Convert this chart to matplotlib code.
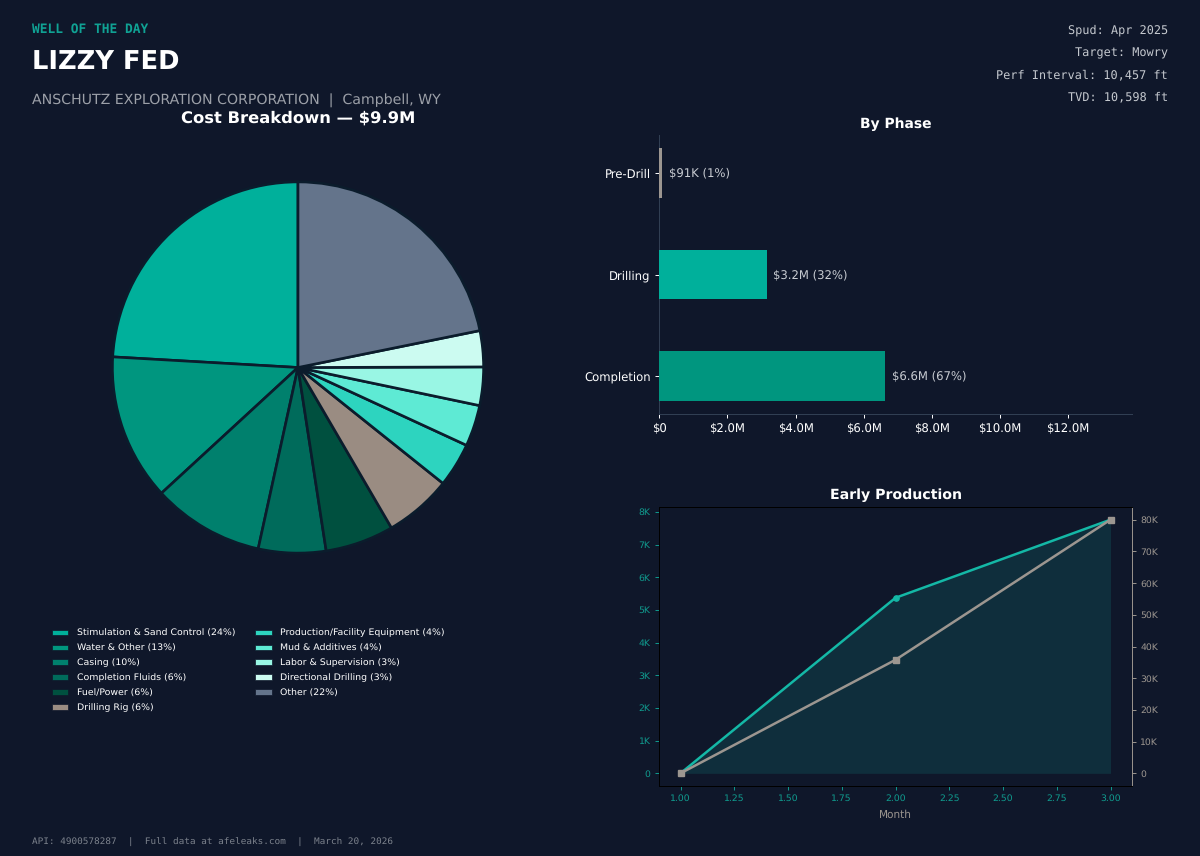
import matplotlib
matplotlib.use("Agg")
import matplotlib.pyplot as plt
from matplotlib.patches import Patch
from matplotlib.ticker import FuncFormatter

plt.rcParams["text.hinting"] = "no_hinting"
plt.rcParams["text.hinting_factor"] = 8

BG = "#0f172a"
TEAL = "#0f9b8e"
LINE = "#14b8a6"
GREY = "#9c9690"

cost_labels = ["Stimulation & Sand Control (24%)", "Water & Other (13%)", "Casing (10%)",
               "Completion Fluids (6%)", "Fuel/Power (6%)", "Drilling Rig (6%)",
               "Production/Facility Equipment (4%)", "Mud & Additives (4%)",
               "Labor & Supervision (3%)", "Directional Drilling (3%)", "Other (22%)"]
cost_values = [2.38, 1.26, 0.96, 0.58, 0.59, 0.58, 0.38, 0.355, 0.33, 0.31, 2.155]
cost_colors = ["#00b09b", "#00967f", "#00806d", "#006b5b", "#00503f", "#9a8c82",
               "#2dd4bf", "#5eead4", "#99f6e4", "#ccfbf1", "#64748b"]

phases = ["Completion", "Drilling", "Pre-Drill"]
phase_values = [6.63, 3.15, 0.091]
phase_notes = ["$6.6M (67%)", "$3.2M (32%)", "$91K (1%)"]
phase_colors = ["#00967f", "#00b09b", GREY]

months = [1, 2, 3]
gas = [0, 5370, 7760]
oil = [0, 35800, 80000]

W, H = 1200, 856
def box(l, t, r, b):
    return [l / W, 1 - b / H, (r - l) / W, (b - t) / H]

fig = plt.figure(figsize=(12, 8.56), dpi=100, facecolor=BG)

fig.text(32 / W, 1 - 29.5 / H, "WELL OF THE DAY", family="monospace", weight="bold",
         fontsize=9.24, color="#10a294", va="center")
fig.text(32 / W, 1 - 62 / H, "LIZZY FED", weight="bold", fontsize=18.5, color="white", va="center")
fig.text(32 / W, 1 - 101 / H, "ANSCHUTZ EXPLORATION CORPORATION  |  Campbell, WY",
         fontsize=10.13, color="#9ca0a8", va="center")
for y, s in zip([34, 56.3, 78.5, 100.7], ["Spud: Apr 2025", "Target: Mowry",
                                          "Perf Interval: 10,457 ft", "TVD: 10,598 ft"]):
    fig.text(1168 / W, 1 - y / H, s, family="monospace", fontsize=8.55, color="#c4c8ce",
             ha="right", va="baseline")
fig.text(32 / W, 1 - 842.5 / H, "API: 4900578287  |  Full data at afeleaks.com  |  March 20, 2026",
         family="monospace", fontsize=6.75, color="#7c828c", va="center")

# Pie
ax = fig.add_axes(box(68, 137.5, 528, 597.5))
ax.set_facecolor(BG)
wedges, _ = ax.pie(cost_values, colors=cost_colors, startangle=90, radius=1,
                   wedgeprops=dict(edgecolor="#0b1c2c", linewidth=1.9))
ax.set_xlim(-230 / 185.6, 230 / 185.6)
ax.set_ylim(-230 / 185.6, 230 / 185.6)
fig.text(298 / W, 1 - 118.5 / H, "Cost Breakdown \u2014 $9.9M", weight="bold", fontsize=11.8,
         color="white", ha="center", va="center")
handles = [Patch(facecolor=c, edgecolor=BG, linewidth=0.5) for c in cost_colors]
fig.legend(handles, cost_labels, ncol=2, fontsize=6.78, frameon=False, labelcolor="white",
           loc="upper left", bbox_to_anchor=(48.5 / W, 1 - 625 / H), borderaxespad=0,
           handlelength=1.72, handleheight=0.5, handletextpad=0.88, columnspacing=2.15,
           labelspacing=0.66)

# Phase bars
ax = fig.add_axes(box(659.3, 135.5, 1132, 413.6))
ax.set_facecolor(BG)
ax.barh(phases, phase_values, height=0.49, color=phase_colors, zorder=3)
for i, (v, s) in enumerate(zip(phase_values, phase_notes)):
    ax.text(v + 0.2, i, s, color="#c8ccd2", fontsize=8.4, va="center")
ax.set_xlim(0, 13.88)
ax.xaxis.set_major_formatter(FuncFormatter(lambda v, p: "$0" if v == 0 else f"${v:.1f}M"))
ax.set_xticks([0, 2, 4, 6, 8, 10, 12])
ax.tick_params(colors="white", labelsize=8.4, length=3, width=0.7, pad=3)
ax.tick_params(axis="y", pad=3.2)
for s in ("top", "right"):
    ax.spines[s].set_visible(False)
for s in ("left", "bottom"):
    ax.spines[s].set_color("#334155")
    ax.spines[s].set_linewidth(0.7)
fig.text(896 / W, 1 - 124 / H, "By Phase", weight="bold", fontsize=10, color="white",
         ha="center", va="center")

# Production
ax = fig.add_axes(box(659, 507, 1132, 786))
ax.set_facecolor(BG)
ax.fill_between(months, gas, color=LINE, alpha=0.15, linewidth=0)
ax.plot(months, gas, color=LINE, linewidth=1.8, marker="o", markersize=3.8)
ax.set_xticks([1, 1.25, 1.5, 1.75, 2, 2.25, 2.5, 2.75, 3])
ax.xaxis.set_major_formatter(FuncFormatter(lambda v, p: f"{v:.2f}"))
ax.yaxis.set_major_formatter(FuncFormatter(lambda v, p: "0" if v == 0 else f"{v/1000:.0f}K"))
ax.set_yticks(range(0, 8001, 1000))
ax.tick_params(colors=TEAL, labelsize=6.7, length=3, width=0.7, pad=3)
ax.set_xlabel("Month", color=GREY, fontsize=7.6, labelpad=4.5)
for s in ax.spines.values():
    s.set_linewidth(0.7)
fig.text(896 / W, 1 - 495 / H, "Early Production", color="white", weight="bold", fontsize=10.2,
         ha="center", va="center")

ax2 = ax.twinx()
ax2.plot(months, oil, color=GREY, linewidth=1.8, marker="s", markersize=4.5)
ax2.yaxis.set_major_formatter(FuncFormatter(lambda v, p: "0" if v == 0 else f"{v/1000:.0f}K"))
ax2.set_yticks(range(0, 80001, 10000))
ax2.tick_params(axis="y", colors=GREY, labelsize=6.7, length=3, width=0.7, pad=3)
for s in ax2.spines.values():
    s.set_linewidth(0.7)
ax2.spines["right"].set_color(GREY)

fig.savefig("out.png", dpi=100, facecolor=BG)
